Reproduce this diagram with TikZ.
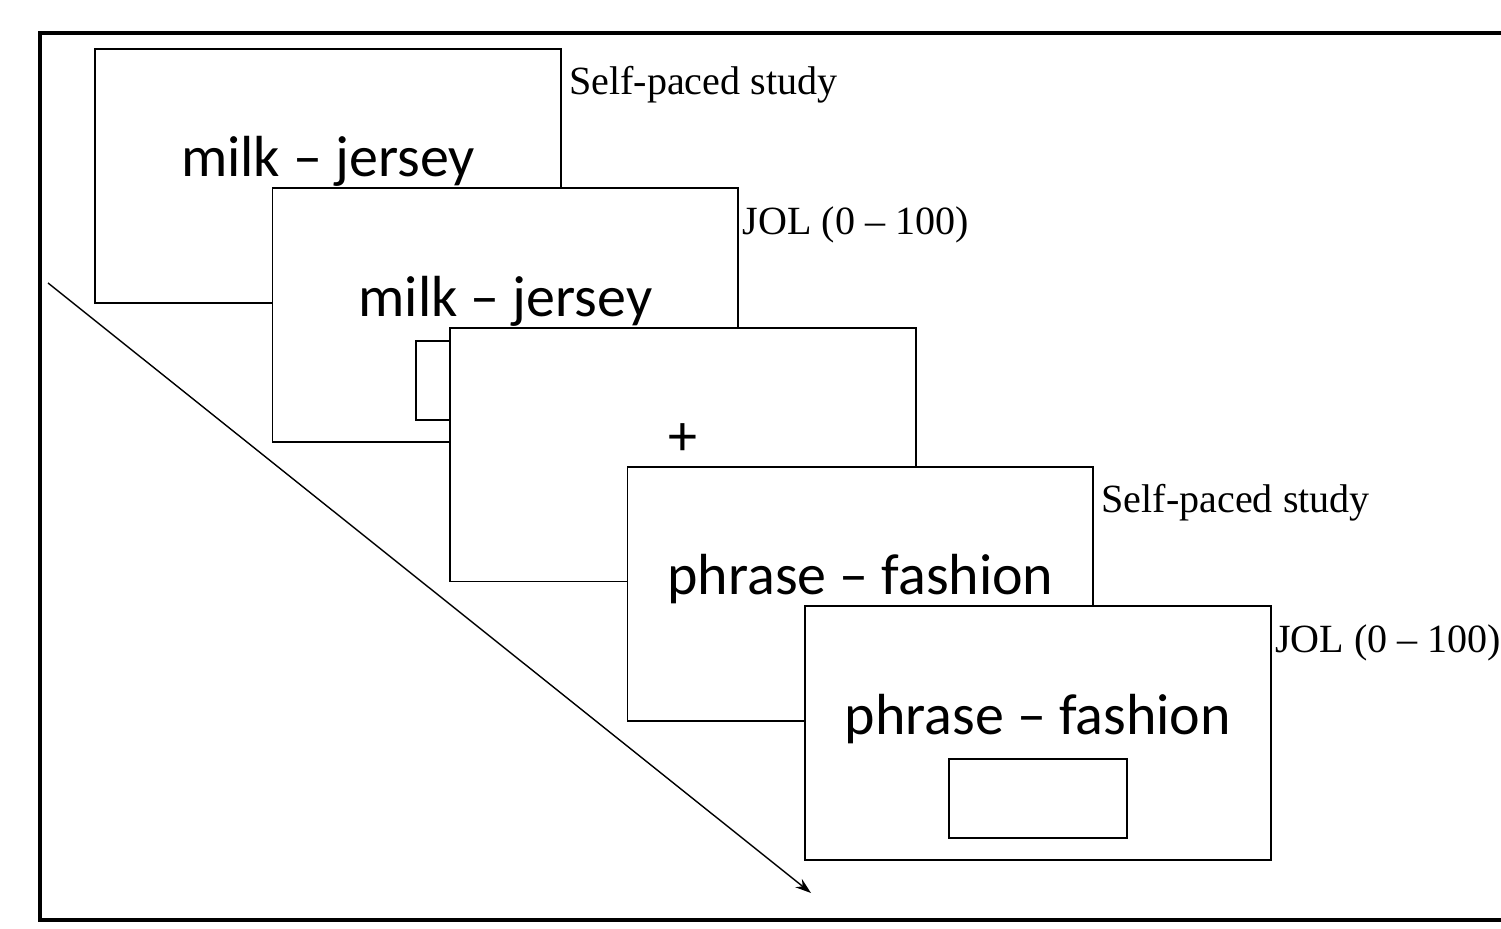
\documentclass[tikz,border=0pt]{standalone}
\usepackage{fontspec}
\setmainfont{Liberation Serif}
\newfontfamily\cardfont{Carlito}
\usepackage{pgf,tikz}
\usetikzlibrary{arrows,arrows.meta,positioning}
\tikzstyle{screen}=[draw,fill=white,line width=1.1pt,minimum width=9.32cm,minimum height=5.08cm,inner sep=0pt,anchor=north west]
\tikzstyle{answer}=[draw,fill=white,line width=1.1pt,minimum width=3.56cm,minimum height=1.58cm,inner sep=0pt,anchor=north west]
\tikzstyle{cue}=[font=\cardfont\fontsize{33}{40}\selectfont,anchor=base,inner sep=0pt]
\tikzstyle{phase}=[font=\fontsize{22.8}{28}\selectfont,anchor=base west,inner sep=0pt]
\tikzstyle{arrow} = [draw,line width=0.8pt,-{Stealth[length=9pt,width=6pt]}]

\begin{document}
\begin{tikzpicture}[x=0.02cm,y=-0.02cm]
    \useasboundingbox (0,0) rectangle (1501,929);
    % outer frame, open past the right edge
    \coordinate (f1) at (1520,33);
    \coordinate (f2) at (40,33);
    \coordinate (f3) at (40,920);
    \coordinate (f4) at (1520,920);
    \draw[line width=2.6pt] (f1) -- (f2) -- (f3) -- (f4);
    % time arrow
    \coordinate (start) at (48,283);
    \coordinate (end) at (811,893);
    \path[arrow] (start) -- (end);
    % screens
    \node[screen] (s1) at (94,48) {};
    \node[cue] (w1) at ([yshift=-2.58cm]s1.north) {milk – jersey};
    \node[phase] (l1) at ([xshift=0.14cm,yshift=-0.94cm]s1.north east) {Self-paced study};
    \node[screen] (s2) at (271.5,187.3) {};
    \node[cue] (w2) at ([yshift=-2.58cm]s2.north) {milk – jersey};
    \node[answer] (a2) at ([xshift=2.88cm,yshift=-3.06cm]s2.north west) {};
    \node[phase] (l2) at ([xshift=0.06cm,yshift=-0.94cm]s2.north east) {JOL (0 – 100)};
    \node[screen] (s3) at (449,326.6) {};
    \node[cue] (fix) at ([yshift=-2.58cm]s3.north) {+};
    \node[screen] (s4) at (626.5,465.9) {};
    \node[cue] (w4) at ([yshift=-2.58cm]s4.north) {phrase – fashion};
    \node[phase] (l4) at ([xshift=0.14cm,yshift=-0.94cm]s4.north east) {Self-paced study};
    \node[screen] (s5) at (804,605.2) {};
    \node[cue] (w5) at ([yshift=-2.58cm]s5.north) {phrase – fashion};
    \node[answer] (a5) at ([xshift=2.88cm,yshift=-3.06cm]s5.north west) {};
    \node[phase] (l5) at ([xshift=0.06cm,yshift=-0.94cm]s5.north east) {JOL (0 – 100)};
\end{tikzpicture}
\end{document}
